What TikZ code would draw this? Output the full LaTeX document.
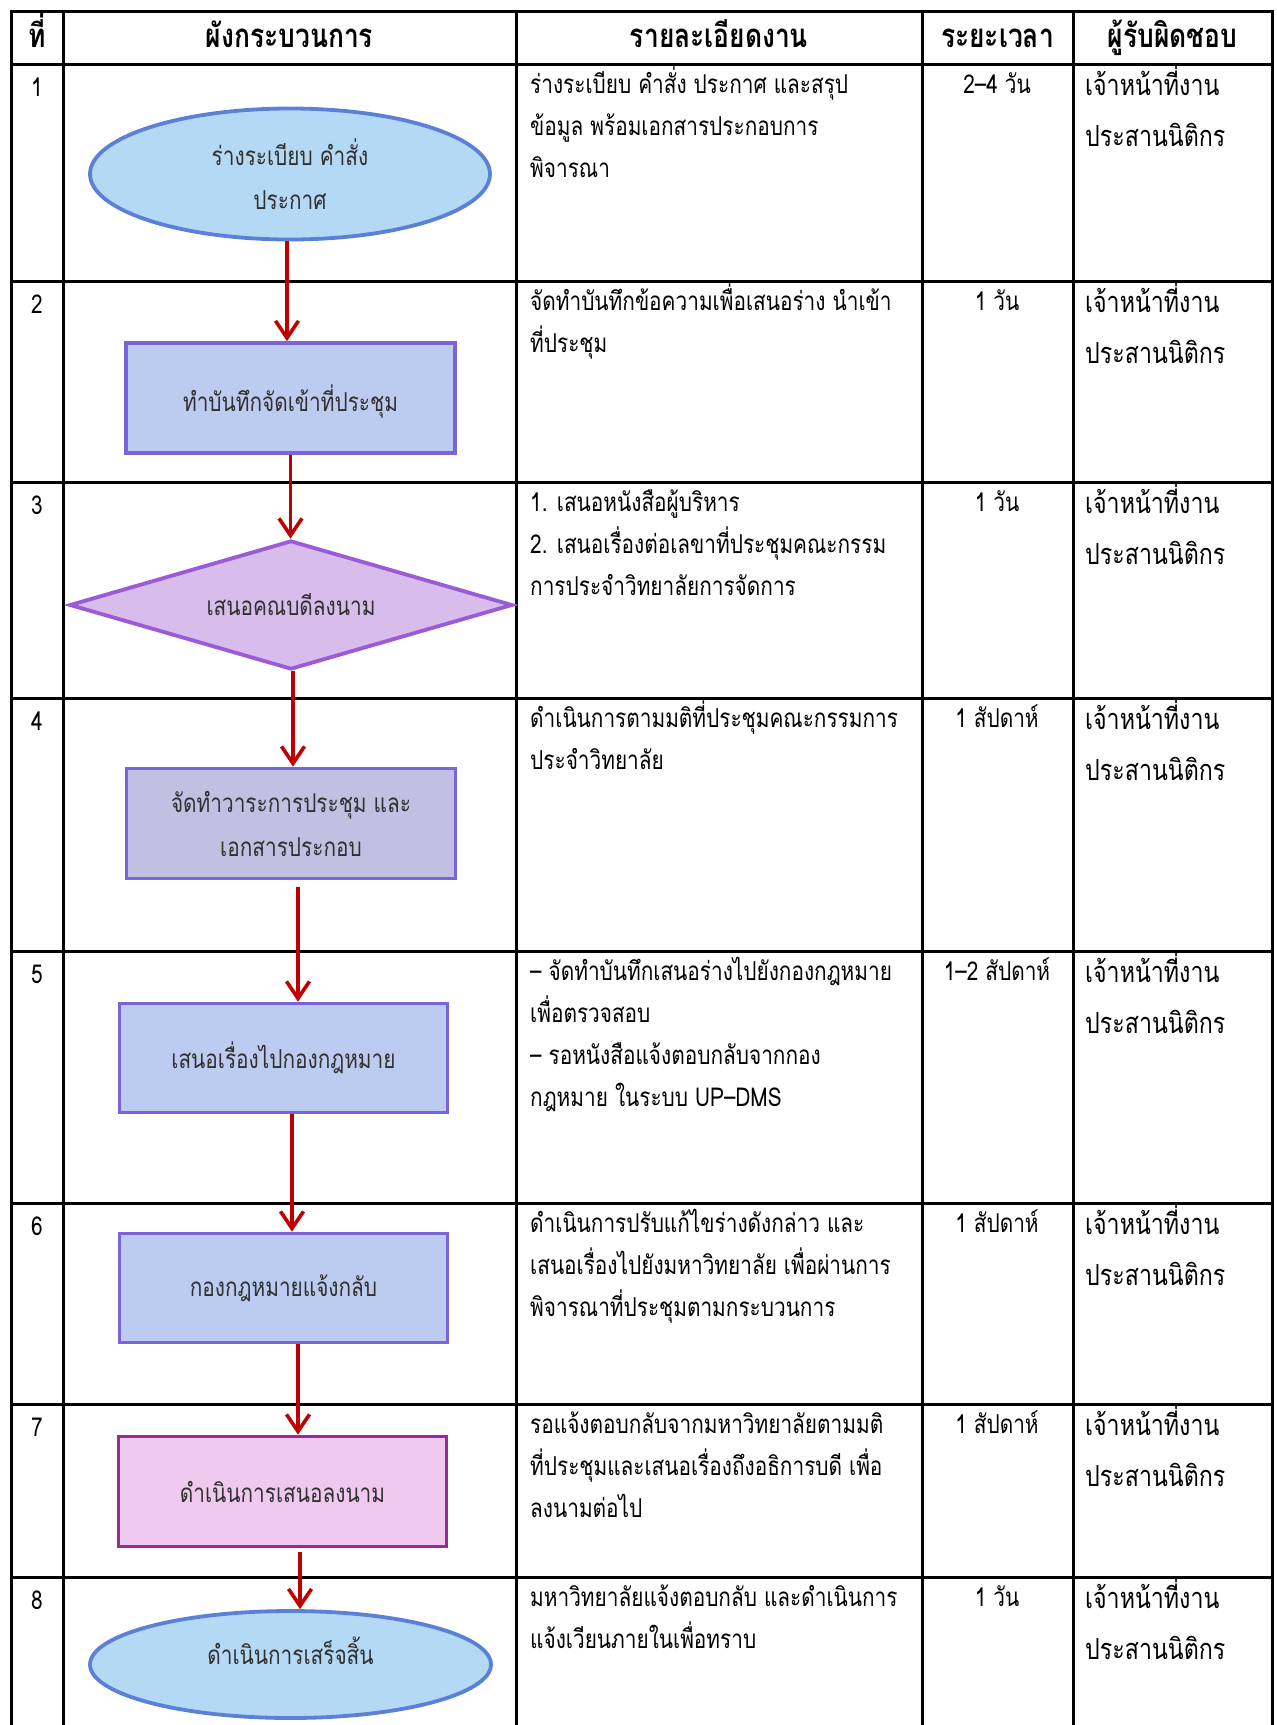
\documentclass[tikz,border=0pt]{standalone}
\usepackage{fontspec}
\usetikzlibrary{shapes.geometric,arrows.meta}
\newfontfamily\thf[Script=Thai,FakeStretch=0.8]{Loma}
\definecolor{arrred}{HTML}{C00000}
\definecolor{ellfill}{HTML}{B4D9F5}
\definecolor{elldraw}{HTML}{5B80D8}
\definecolor{boxfill}{HTML}{BCCBF0}
\definecolor{boxdraw}{HTML}{7B64DA}
\definecolor{diafill}{HTML}{D8BCEC}
\definecolor{diadraw}{HTML}{9A5BD8}
\definecolor{box4fill}{HTML}{C3BFE2}
\definecolor{pinkfill}{HTML}{F0C9EE}
\definecolor{pinkdraw}{HTML}{9B2A97}
\definecolor{shtext}{HTML}{303030}
\tikzset{
  grid/.style={line width=3pt, black},
  dtext/.style={anchor=base west, inner sep=0pt, font=\thf\fontsize{26}{30}\selectfont},
  ttext/.style={anchor=base, inner sep=0pt, font=\thf\fontsize{26}{30}\selectfont},
  rtext/.style={anchor=base west, inner sep=0pt, font=\thf\fontsize{29}{34}\selectfont},
  htext/.style={anchor=base, inner sep=0pt, font=\thf\bfseries\fontsize{33}{38}\selectfont},
  shp/.style={line width=3.8pt, inner sep=0pt, text=shtext, align=center,
    font=\thf\fontsize{26}{44}\selectfont},
  ell/.style={shp, ellipse, fill=ellfill, draw=elldraw},
  boxa/.style={shp, rectangle, fill=boxfill, draw=boxdraw, minimum width=328pt, minimum height=109pt},
  arr/.style={draw=arrred, line width=3.6pt, -{Straight Barb[length=17pt,width=23pt]}}
}
\begin{document}
\begin{tikzpicture}[x=1pt,y=-1pt]
\useasboundingbox[fill=white] (0,0) rectangle (1277,1725);
% table grid
\foreach \yy in {64,281,482,698,951,1203,1404,1577}
  \draw[grid] (11,\yy) -- (1272,\yy);
\foreach \xx in {63,516,922,1073}
  \draw[grid] (\xx,11) -- (\xx,1725);
\draw[grid, line join=miter] (11,1725) -- (11,11) -- (1272,11) -- (1272,1725);
% header
\node[htext] (h1) at (37,47) {ที่};
\node[htext] (h2) at (289.5,47) {ผังกระบวนการ};
\node[htext] (h3) at (719,47) {รายละเอียดงาน};
\node[htext] (h4) at (997.5,47) {ระยะเวลา};
\node[htext] (h5) at (1172.5,47) {ผู้รับผิดชอบ};
% row numbers, durations, responsible
\foreach \i/\t/\tm in {1/64/{2–4 วัน},2/281/{1 วัน},3/482/{1 วัน},4/698/{1 สัปดาห์},5/951/{1–2 สัปดาห์},6/1203/{1 สัปดาห์},7/1404/{1 สัปดาห์},8/1577/{1 วัน}}{
  \node[ttext] (num\i) at (37,\t+32) {\i};
  \node[ttext] (tm\i) at (997,\t+29) {\tm};
  \node[rtext] (ra\i) at (1085,\t+31) {เจ้าหน้าที่งาน};
  \node[rtext] (rb\i) at (1085,\t+82) {ประสานนิติกร};
}
% details
\node[dtext] (d1a) at (530,93) {ร่างระเบียบ คำสั่ง ประกาศ และสรุป};
\node[dtext] (d1b) at (530,135) {ข้อมูล พร้อมเอกสารประกอบการ};
\node[dtext] (d1c) at (530,177) {พิจารณา};
\node[dtext] (d2a) at (530,310) {จัดทำบันทึกข้อความเพื่อเสนอร่าง นำเข้า};
\node[dtext] (d2b) at (530,352) {ที่ประชุม};
\node[dtext] (d3a) at (530,511) {1. เสนอหนังสือผู้บริหาร};
\node[dtext] (d3b) at (530,553) {2. เสนอเรื่องต่อเลขาที่ประชุมคณะกรรม};
\node[dtext] (d3c) at (530,595) {การประจำวิทยาลัยการจัดการ};
\node[dtext] (d4a) at (530,727) {ดำเนินการตามมติที่ประชุมคณะกรรมการ};
\node[dtext] (d4b) at (530,769) {ประจำวิทยาลัย};
\node[dtext] (d5a) at (530,980) {– จัดทำบันทึกเสนอร่างไปยังกองกฎหมาย};
\node[dtext] (d5b) at (530,1022) {เพื่อตรวจสอบ};
\node[dtext] (d5c) at (530,1064) {– รอหนังสือแจ้งตอบกลับจากกอง};
\node[dtext] (d5d) at (530,1106) {กฎหมาย ในระบบ UP–DMS};
\node[dtext] (d6a) at (530,1232) {ดำเนินการปรับแก้ไขร่างดังกล่าว และ};
\node[dtext] (d6b) at (530,1274) {เสนอเรื่องไปยังมหาวิทยาลัย เพื่อผ่านการ};
\node[dtext] (d6c) at (530,1316) {พิจารณาที่ประชุมตามกระบวนการ};
\node[dtext] (d7a) at (530,1433) {รอแจ้งตอบกลับจากมหาวิทยาลัยตามมติ};
\node[dtext] (d7b) at (530,1475) {ที่ประชุมและเสนอเรื่องถึงอธิการบดี เพื่อ};
\node[dtext] (d7c) at (530,1517) {ลงนามต่อไป};
\node[dtext] (d8a) at (530,1606) {มหาวิทยาลัยแจ้งตอบกลับ และดำเนินการ};
\node[dtext] (d8b) at (530,1648) {แจ้งเวียนภายในเพื่อทราบ};
% flowchart shapes
\node[ell, minimum width=400pt, minimum height=131pt] (n1) at (290,174) {ร่างระเบียบ คำสั่ง\\ประกาศ};
\node[boxa, minimum width=329pt, minimum height=110pt] (n2) at (290.5,398) {\smash{\raisebox{-13pt}{ทำบันทึกจัดเข้าที่ประชุม}}};
\node[shp, diamond, aspect=3.42, fill=diafill, draw=diadraw, minimum width=443pt, minimum height=129pt] (n3) at (291,605) {เสนอคณบดีลงนาม};
\node[boxa, fill=box4fill, minimum width=329pt, minimum height=110pt] (n4) at (291,823.5) {จัดทำวาระการประชุม และ\\เอกสารประกอบ};
\node[boxa] (n5) at (283.5,1058) {เสนอเรื่องไปกองกฎหมาย};
\node[boxa] (n6) at (283.5,1288) {กองกฎหมายแจ้งกลับ};
\node[boxa, fill=pinkfill, draw=pinkdraw, minimum height=110pt] (n7) at (282.5,1491.5) {ดำเนินการเสนอลงนาม};
\node[ell, minimum width=401pt, minimum height=107pt] (n8) at (290.5,1664.5) {\smash{ดำเนินการเสร็จสิ้น}};
% connectors
\draw[arr] ([xshift=-3pt]n1.south) -- ([xshift=-3.5pt]n2.north);
\draw[arr] ([xshift=0pt]n2.south) -- ([xshift=-0.5pt]n3.north);
\draw[arr] ([xshift=2pt]n3.south) -- ([xshift=2pt]n4.north);
\draw[arr] ([xshift=7pt,yshift=-7pt]n4.south) -- ([xshift=14.5pt]n5.north);
\draw[arr] ([xshift=8.5pt]n5.south) -- ([xshift=8.5pt]n6.north);
\draw[arr] ([xshift=14.5pt]n6.south) -- ([xshift=15.5pt]n7.north);
\draw[arr] ([xshift=17.5pt,yshift=-4pt]n7.south) -- ([xshift=9.5pt]n8.north);
\end{tikzpicture}
\end{document}
